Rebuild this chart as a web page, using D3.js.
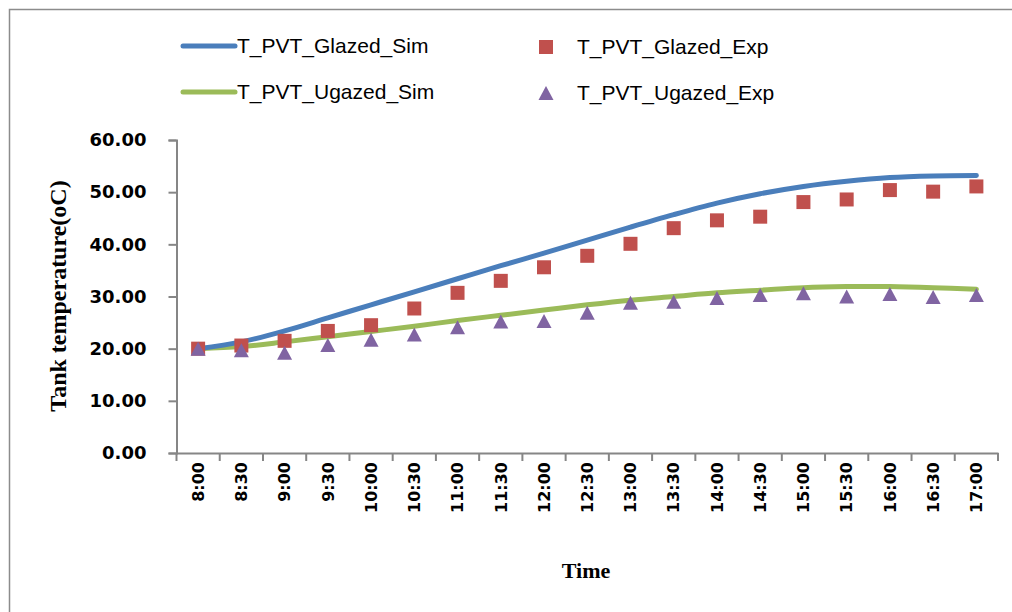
<!DOCTYPE html>
<html><head><meta charset="utf-8">
<script src="https://cdn.jsdelivr.net/npm/d3@7"></script>
<style>body{margin:0;background:#fff}svg{display:block}</style>
</head><body><svg id="c" width="1012" height="612"></svg>
<script>
const times = ["8:00","8:30","9:00","9:30","10:00","10:30","11:00","11:30","12:00","12:30","13:00","13:30","14:00","14:30","15:00","15:30","16:00","16:30","17:00"];
const glazedSim = [20.0,21.3,23.4,25.9,28.4,30.9,33.4,35.9,38.3,40.8,43.3,45.7,47.9,49.7,51.1,52.1,52.8,53.1,53.2];
const glazedExp = [20.0,20.6,21.5,23.4,24.5,27.7,30.7,33.0,35.6,37.8,40.1,43.1,44.6,45.3,48.1,48.6,50.4,50.1,51.1];
const unglazedSim = [20.0,20.4,21.3,22.3,23.3,24.3,25.4,26.4,27.4,28.4,29.3,30.0,30.7,31.2,31.7,31.9,31.9,31.7,31.4];
const unglazedExp = [20.0,19.7,19.2,20.7,21.7,22.7,24.1,25.2,25.3,26.9,28.8,29.0,29.7,30.3,30.6,30.0,30.5,29.9,30.3];
const yTicks = [0,10,20,30,40,50,60];
const seriesNames = ["T_PVT_Glazed_Sim","T_PVT_Glazed_Exp","T_PVT_Ugazed_Sim","T_PVT_Ugazed_Exp"];

const C = {blue:"#4A7EBB", red:"#C0504D", green:"#9BBB59", purple:"#8064A2", axis:"#868686"};
const svg = d3.select("#c");

// outer frame
svg.append("rect").attr("x",9.5).attr("y",9.5).attr("width",1100).attr("height",700)
  .attr("fill","none").attr("stroke","#8c8c8c").attr("stroke-width",1.5);

const L = 176.5, R = 998, T = 140, B = 453;
const x = d3.scaleBand().domain(times).range([L, R]);
const y = d3.scaleLinear().domain([0,60]).range([B, T]);
const cx = d => x(d) + x.bandwidth()/2;

// y axis
const ya = svg.append("g").attr("transform",`translate(${L},0)`)
  .call(d3.axisLeft(y).tickValues(yTicks).tickSize(8).tickPadding(22).tickFormat(d3.format(".2f")));
ya.select(".domain").attr("stroke",C.axis).attr("stroke-width",2);
ya.selectAll(".tick line").attr("stroke",C.axis).attr("stroke-width",2);
ya.selectAll(".tick text").attr("font-family","DejaVu Sans").attr("font-weight","bold")
  .attr("font-size",18).attr("fill","#000");

// x axis
const xa = svg.append("g").attr("transform",`translate(0,${B})`)
  .call(d3.axisBottom(x).tickSize(0).tickSizeOuter(0));
xa.select(".domain").attr("stroke",C.axis).attr("stroke-width",2);
xa.selectAll(".tick line").remove();
xa.selectAll(".tick text").attr("font-family","DejaVu Sans").attr("font-weight","bold")
  .attr("font-size",16).attr("fill","#000")
  .attr("transform","rotate(-90)").attr("text-anchor","end")
  .attr("x",-9).attr("y",0).attr("dy","0.36em");
const bounds = times.map(t => x(t)).concat([R]);
xa.selectAll("line.bt").data(bounds).enter().append("line").attr("class","bt")
  .attr("x1",d=>d).attr("x2",d=>d).attr("y1",0).attr("y2",8)
  .attr("stroke",C.axis).attr("stroke-width",2);

// axis titles
svg.append("text").attr("x",586).attr("y",578).attr("text-anchor","middle")
  .attr("font-family","Liberation Serif").attr("font-weight","bold").attr("font-size",22).text("Time");
svg.append("text").attr("transform","translate(66,296) rotate(-90)").attr("text-anchor","middle")
  .attr("font-family","Liberation Serif").attr("font-weight","bold").attr("font-size",24).text("Tank temperature(oC)");

// lines
const line = d3.line().x((d,i)=>cx(times[i])).y(d=>y(d)).curve(d3.curveCatmullRom.alpha(0.5));
svg.append("path").datum(unglazedSim).attr("d",line).attr("fill","none")
  .attr("stroke",C.green).attr("stroke-width",5).attr("stroke-linecap","round");
svg.append("path").datum(glazedSim).attr("d",line).attr("fill","none")
  .attr("stroke",C.blue).attr("stroke-width",5).attr("stroke-linecap","round");

// markers
const sq = d3.symbol().type(d3.symbolSquare).size(196);
const triType = { draw(ctx, size) { const w = 7.5, h = 7; ctx.moveTo(0,-h); ctx.lineTo(w,h); ctx.lineTo(-w,h); ctx.closePath(); } };
const tri = d3.symbol().type(triType).size(1);
svg.selectAll("path.sq").data(glazedExp).enter().append("path").attr("class","sq")
  .attr("d",sq).attr("transform",(d,i)=>`translate(${cx(times[i])},${y(d)})`).attr("fill",C.red);
svg.selectAll("path.tri").data(unglazedExp).enter().append("path").attr("class","tri")
  .attr("d",tri).attr("transform",(d,i)=>`translate(${cx(times[i])},${y(d)})`).attr("fill",C.purple);

// legend
const lg = svg.append("g").attr("font-family","Liberation Sans").attr("font-size",21).attr("fill","#000");
const legendRows = [
  {name:seriesNames[0], kind:"line", color:C.blue, lx:183, ly:46},
  {name:seriesNames[1], kind:"sq", color:C.red, lx:546, ly:47},
  {name:seriesNames[2], kind:"line", color:C.green, lx:183, ly:92},
  {name:seriesNames[3], kind:"tri", color:C.purple, lx:546, ly:93}
];
legendRows.forEach(r => {
  if (r.kind === "line") {
    lg.append("line").attr("x1",r.lx).attr("x2",r.lx+52).attr("y1",r.ly).attr("y2",r.ly)
      .attr("stroke",r.color).attr("stroke-width",5).attr("stroke-linecap","round");
    lg.append("text").attr("x",r.lx+54).attr("y",r.ly).attr("dy","0.35em").text(r.name);
  } else {
    lg.append("path").attr("d", r.kind==="sq" ? sq : tri)
      .attr("transform",`translate(${r.lx},${r.ly})`).attr("fill",r.color);
    lg.append("text").attr("x",r.lx+31).attr("y",r.ly).attr("dy","0.35em").text(r.name);
  }
});
</script></body></html>
